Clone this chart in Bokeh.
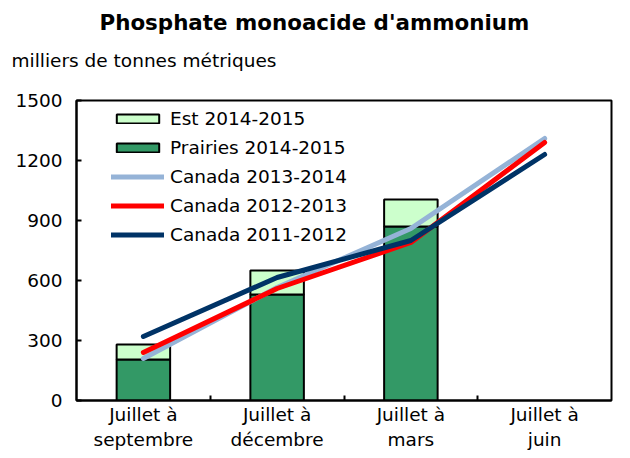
from bokeh.plotting import figure
from bokeh.models import (ColumnDataSource, FixedTicker, Legend, LegendItem,
                          Title, Range1d)
from bokeh.embed import file_html
from bokeh.resources import INLINE

categories = ["Juillet à\nseptembre", "Juillet à\ndécembre", "Juillet à\nmars", "Juillet à\njuin"]
prairies_2014_15 = [205, 530, 870]
est_2014_15 = [75, 120, 135]
canada_2013_14 = [210, 565, 860, 1310]
canada_2012_13 = [240, 560, 790, 1290]
canada_2011_12 = [320, 615, 800, 1230]
y_ticks = [0, 300, 600, 900, 1200, 1500]
title_text = "Phosphate monoacide d'ammonium"
unit_text = "milliers de tonnes métriques"

FONT = "DejaVu Sans"
xpos = [i + 0.5 for i in range(len(categories))]
nb = len(prairies_2014_15)

p = figure(frame_width=535, frame_height=300, output_backend="svg", toolbar_location=None,
           x_range=Range1d(0, len(categories)), y_range=Range1d(0, 1500),
           min_border_left=76, min_border_right=8, min_border_bottom=40,
           min_border_top=60)

# spacer between unit text and plot frame
p.add_layout(Title(text=" ", text_font_size="1px", standoff=22), "above")
p.add_layout(Title(text=unit_text, align="left", offset=-65,
                   text_font=FONT, text_font_size="18.5px", text_font_style="normal",
                   text_color="black", standoff=10), "above")
p.add_layout(Title(text=title_text, align="left", offset=23,
                   text_font=FONT, text_font_size="21.4px", text_font_style="bold",
                   text_color="black", standoff=15), "above")

src = ColumnDataSource(dict(x=xpos[:nb], prairies=prairies_2014_15, est=est_2014_15))
bars = p.vbar_stack(["prairies", "est"], x="x", width=0.4, source=src,
                    fill_color=["#339966", "#CCFFCC"], line_color="black", line_width=2)

l13 = p.line(xpos, canada_2013_14, line_color="#95B3D7", line_width=5, line_cap="round", line_join="round")
l12 = p.line(xpos, canada_2012_13, line_color="#FF0000", line_width=5, line_cap="round", line_join="round")
l11 = p.line(xpos, canada_2011_12, line_color="#003366", line_width=5, line_cap="round", line_join="round")

legend = Legend(items=[
    LegendItem(label="Est 2014-2015", renderers=[bars[1]]),
    LegendItem(label="Prairies 2014-2015", renderers=[bars[0]]),
    LegendItem(label="Canada 2013-2014", renderers=[l13]),
    LegendItem(label="Canada 2012-2013", renderers=[l12]),
    LegendItem(label="Canada 2011-2012", renderers=[l11]),
], location=(35, 155), padding=0, margin=0, spacing=8, label_height=20,
   glyph_height=11, glyph_width=53, label_standoff=6,
   label_text_font=FONT, label_text_font_size="18.5px", label_text_color="black",
   background_fill_alpha=0, border_line_color=None)
p.add_layout(legend, "center")

p.grid.visible = False
p.outline_line_color = "black"
p.outline_line_width = 2

p.xaxis.ticker = FixedTicker(ticks=xpos, minor_ticks=[1, 2, 3])
p.xaxis.major_label_overrides = {x: c for x, c in zip(xpos, categories)}
p.xaxis.major_tick_line_color = None
p.xaxis.major_tick_in = 0
p.xaxis.major_tick_out = 0
p.xaxis.minor_tick_in = 5
p.xaxis.minor_tick_out = 0
p.xaxis.minor_tick_line_width = 2
p.xaxis.minor_tick_line_color = "black"

p.yaxis.ticker = FixedTicker(ticks=y_ticks)
p.yaxis.minor_tick_line_color = None
p.yaxis.major_tick_in = 5
p.yaxis.major_tick_out = 0
p.yaxis.major_tick_line_width = 2

for ax in (p.xaxis, p.yaxis):
    ax.axis_line_width = 2
    ax.axis_line_color = "black"
    ax.major_label_text_font = FONT
    ax.major_label_text_font_size = "18.5px"
    ax.major_label_text_color = "black"
p.yaxis.major_label_standoff = 14
p.xaxis.major_label_standoff = 3

open("out.html", "w").write(file_html(p, INLINE))
